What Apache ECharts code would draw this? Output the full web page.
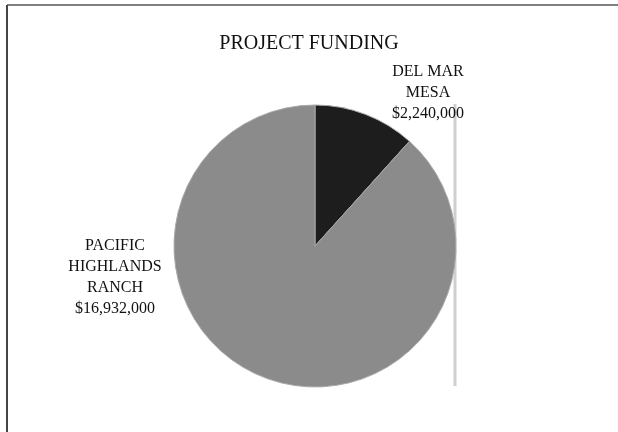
<!DOCTYPE html>
<html>
<head>
<meta charset="utf-8">
<script src="https://cdn.jsdelivr.net/npm/echarts@6/dist/echarts.min.js"></script>
<style>
  html, body { margin: 0; padding: 0; background: #fff; }
  #chart { width: 618px; height: 432px; }
</style>
</head>
<body>
<div id="chart"></div>
<script>
// data
const projects = ['DEL MAR\nMESA', 'PACIFIC\nHIGHLANDS\nRANCH']
const funding = [2240000, 16932000]
const sliceColors = ['#1d1d1d', '#8b8b8b']

// where each label sits on the page
const labelSpots = [
  { x: 428, y: 93 },
  { x: 115, y: 277 }
]

function money (v) {
  return '$' + v.toLocaleString('en-US')
}

const myChart = echarts.init(document.getElementById('chart'), null, { renderer: 'canvas' })

const option = {
  backgroundColor: '#ffffff',
  animation: false,
  title: {
    text: 'PROJECT FUNDING',
    left: 'center',
    top: 29,
    textStyle: {
      fontFamily: 'Liberation Serif',
      fontWeight: 'normal',
      fontSize: 20,
      color: '#111'
    }
  },
  graphic: [
    // scan frame
    { type: 'line', shape: { x1: 7, y1: 5, x2: 618, y2: 5 }, style: { stroke: '#555', lineWidth: 1.5 } },
    { type: 'line', shape: { x1: 7, y1: 5, x2: 7, y2: 432 }, style: { stroke: '#444', lineWidth: 2 } },
    // faint vertical streak right of the pie
    { type: 'line', shape: { x1: 455, y1: 104, x2: 455, y2: 386 }, style: { stroke: '#cfcfcf', lineWidth: 3 } }
  ],
  series: [
    {
      type: 'pie',
      center: [315, 246],
      radius: [0, 141],
      startAngle: 90,
      clockwise: true,
      silent: true,
      itemStyle: {
        borderColor: '#a9a9a9',
        borderWidth: 1
      },
      label: {
        show: true,
        position: 'outside',
        fontFamily: 'Liberation Serif',
        fontSize: 16,
        lineHeight: 21,
        color: '#111',
        align: 'center',
        formatter: p => p.name + '\n' + money(p.value)
      },
      labelLine: { show: false },
      labelLayout: p => ({
        x: labelSpots[p.dataIndex].x,
        y: labelSpots[p.dataIndex].y,
        align: 'center',
        verticalAlign: 'middle'
      }),
      data: projects.map((name, i) => ({
        name: name,
        value: funding[i],
        itemStyle: { color: sliceColors[i] }
      }))
    }
  ]
}

myChart.setOption(option)
</script>
</body>
</html>
